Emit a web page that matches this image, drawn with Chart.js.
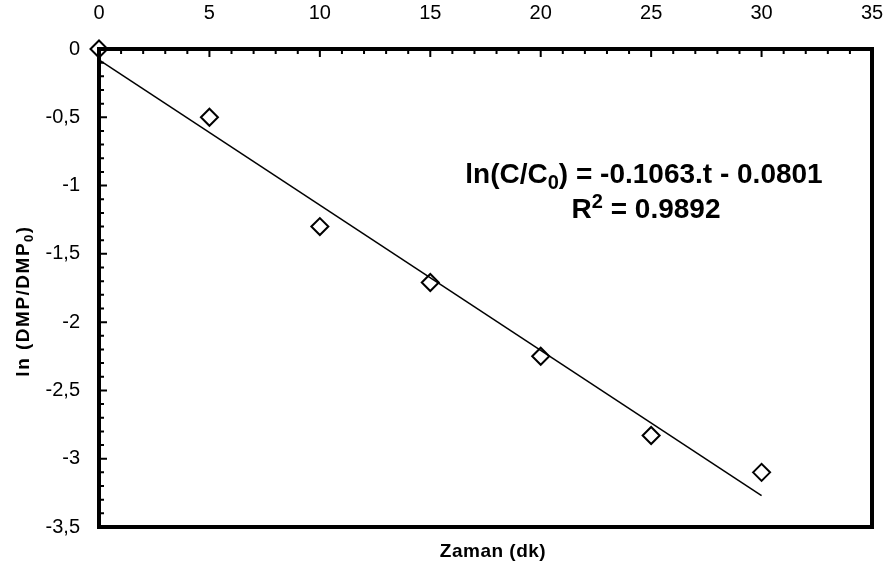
<!DOCTYPE html>
<html>
<head>
<meta charset="utf-8">
<script src="https://cdn.jsdelivr.net/npm/chart.js@4.4.1/dist/chart.umd.min.js"></script>
<style>
  html, body { margin: 0; padding: 0; background: #fff; }
</style>
</head>
<body>
<canvas id="chart" width="889" height="573"></canvas>
<script>
// measured points: ln(DMP/DMP0) vs time (min)
const times = [0, 5, 10, 15, 20, 25, 30];
const lnRatio = [0, -0.50, -1.30, -1.71, -2.25, -2.83, -3.10];

// linear trend line as drawn (end points)
const fitTimes = [0, 30];
const fitValues = [-0.08, -3.27];

const xRange = [0, 35];
const yRange = [-3.5, 0];

const FONT = "'Liberation Sans', Arial, sans-serif";

/**
 * Draw text made of normal / sub / sup parts, centred on cx
 */
function drawRich(ctx, parts, cx, baseline, size, spacing = 0) {
    const fontFor = kind => `bold ${kind ? Math.round(size * 0.7) : size}px ${FONT}`;
    ctx.letterSpacing = spacing + 'px';
    let total = 0;
    parts.forEach(([txt, kind]) => {
        ctx.font = fontFor(kind);
        total += ctx.measureText(txt).width;
    });
    let x = cx - total / 2;
    ctx.textAlign = 'left';
    ctx.textBaseline = 'alphabetic';
    parts.forEach(([txt, kind]) => {
        ctx.font = fontFor(kind);
        const dy = kind === 'sub' ? size * 0.22 : kind === 'sup' ? -size * 0.36 : 0;
        ctx.fillText(txt, x, baseline + dy);
        x += ctx.measureText(txt).width;
    });
    ctx.letterSpacing = '0px';
}

// box round the plot with inner tick marks on top and left
const framePlugin = {
    id: 'frame',
    beforeDatasetsDraw(chart) {
        const { ctx, chartArea: a, scales: { x, y } } = chart;
        ctx.save();
        ctx.strokeStyle = '#000';
        ctx.lineWidth = 2;
        ctx.beginPath();
        for (let t = xRange[0] + 1; t < xRange[1]; t++) {
            const px = x.getPixelForValue(t);
            const len = t % 5 === 0 ? 8 : 5;
            ctx.moveTo(px, a.top);
            ctx.lineTo(px, a.top + len);
        }
        for (let k = 1; k < 35; k++) {
            const py = y.getPixelForValue(-k / 10);
            const len = k % 5 === 0 ? 8 : 5;
            ctx.moveTo(a.left, py);
            ctx.lineTo(a.left + len, py);
        }
        ctx.stroke();
        ctx.lineWidth = 4;
        ctx.strokeRect(a.left, a.top, a.right - a.left, a.bottom - a.top);
        ctx.restore();
    },
    afterDraw(chart) {
        const { ctx } = chart;
        ctx.save();
        ctx.fillStyle = '#000';

        // equation of the fit
        drawRich(ctx, [['ln(C/C', ''], ['0', 'sub'], [') = -0.1063.t - 0.0801', '']], 644, 183, 28);
        drawRich(ctx, [['R', ''], ['2', 'sup'], [' = 0.9892', '']], 646, 218, 28);

        // x axis title
        drawRich(ctx, [['Zaman (dk)', '']], 493, 557, 19, 0.5);

        // y axis title, rotated
        ctx.translate(29, 301);
        ctx.rotate(-Math.PI / 2);
        drawRich(ctx, [['ln (DMP/DMP', ''], ['0', 'sub'], [')', '']], 0, 0, 19, 1.5);
        ctx.restore();
    }
};

const ctx = document.getElementById('chart').getContext('2d');
new Chart(ctx, {
    type: 'scatter',
    data: {
        datasets: [
            {
                label: 'data',
                data: times.map((t, i) => ({ x: t, y: lnRatio[i] })),
                pointStyle: 'rectRot',
                pointRadius: 8.5,
                pointBorderWidth: 2,
                borderColor: '#000',
                backgroundColor: 'rgba(0,0,0,0)',
                clip: false
            },
            {
                label: 'fit',
                data: fitTimes.map((t, i) => ({ x: t, y: fitValues[i] })),
                showLine: true,
                borderColor: '#000',
                borderWidth: 1.5,
                pointRadius: 0,
                clip: false
            }
        ]
    },
    options: {
        responsive: false,
        animation: false,
        layout: { padding: { top: 0, left: 0, right: 17, bottom: 46 } },
        plugins: {
            legend: { display: false },
            tooltip: { enabled: false }
        },
        scales: {
            x: {
                type: 'linear',
                position: 'top',
                min: xRange[0],
                max: xRange[1],
                afterFit(s) {
                    s.height = 49;
                    s.paddingLeft = 0;
                    s.paddingRight = 0;
                },
                grid: { display: false, drawTicks: false },
                border: { display: false },
                ticks: {
                    stepSize: 5,
                    autoSkip: false,
                    maxRotation: 0,
                    padding: 24,
                    color: '#000',
                    font: { family: FONT, size: 20 }
                }
            },
            y: {
                type: 'linear',
                min: yRange[0],
                max: yRange[1],
                afterFit(s) {
                    s.width = 99;
                    s.paddingTop = 0;
                    s.paddingBottom = 0;
                },
                grid: { display: false, drawTicks: false },
                border: { display: false },
                ticks: {
                    stepSize: 0.5,
                    padding: 19,
                    color: '#000',
                    font: { family: FONT, size: 20 },
                    callback: v => String(v).replace('.', ',')
                }
            }
        }
    },
    plugins: [framePlugin]
});
</script>
</body>
</html>
